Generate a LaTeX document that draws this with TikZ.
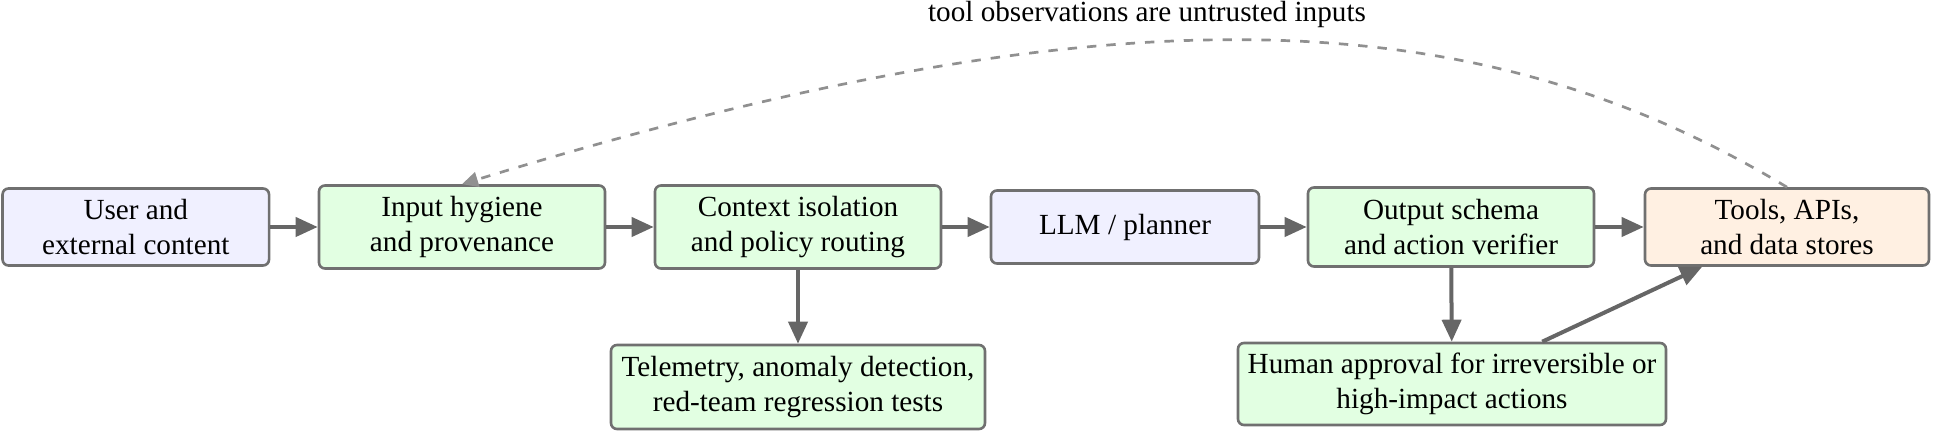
\documentclass[tikz,border=0pt]{standalone}
\usepackage{fontspec}
\setmainfont{Liberation Serif}
\usetikzlibrary{arrows.meta}
\definecolor{bluefill}{HTML}{F0F0FF}
\definecolor{greenfill}{HTML}{E2FFE2}
\definecolor{orangefill}{HTML}{FFF0E2}
\definecolor{boxline}{HTML}{707070}
\definecolor{arrowgray}{HTML}{666666}
\definecolor{dashgray}{HTML}{909090}
\tikzset{
  box/.style={draw=boxline, line width=1.3pt, rounded corners=3pt, align=center,
    inner sep=2pt, font=\fontsize{14.6}{17.3}\selectfont},
  bluebox/.style={box, fill=bluefill},
  greenbox/.style={box, fill=greenfill},
  orangebox/.style={box, fill=orangefill},
  flow/.style={draw=arrowgray, line width=2pt, -{Triangle[length=11pt,width=9.5pt]}},
  feedback/.style={draw=dashgray, line width=1.35pt, dash pattern=on 4.7pt off 5pt,
    -{Triangle[length=8pt,width=7.5pt]}},
}
\begin{document}
\begin{tikzpicture}[x=1pt,y=1pt]
\useasboundingbox (0,0) rectangle (966.5,216);
\node[bluebox, minimum width=133.25pt, minimum height=38.5pt] (user) at (67.9,102.5) {User and\\external content};
\node[greenbox, minimum width=143pt, minimum height=41.5pt] (input) at (231,102.5) {Input hygiene\\and provenance};
\node[greenbox, minimum width=143pt, minimum height=41.5pt] (context) at (399,102.5) {Context isolation\\and policy routing};
\node[bluebox, minimum width=134pt, minimum height=36.5pt] (llm) at (562.5,102.5) {LLM / planner};
\node[greenbox, minimum width=143pt, minimum height=39.5pt] (output) at (725.5,102.5) {Output schema\\and action verifier};
\node[orangebox, minimum width=142pt, minimum height=38.5pt] (tools) at (893.5,102.5) {Tools, APIs,\\and data stores};
\node[greenbox, minimum width=187pt, minimum height=42pt] (tele) at (399,22.5) {Telemetry, anomaly detection,\\red-team regression tests};
\node[greenbox, minimum width=214pt, minimum height=41pt] (human) at (726,24) {Human approval for irreversible or\\high-impact actions};
\node[font=\fontsize{14.6}{17.3}\selectfont, inner sep=0pt] (lbl) at (573.5,209) {tool observations are untrusted inputs};
\draw[flow] (user) -- (input);
\draw[flow] (input) -- (context);
\draw[flow] (context) -- (llm);
\draw[flow] (llm) -- (output);
\draw[flow] (output) -- (tools);
\draw[flow] (context) -- (tele);
\draw[flow] (output) -- (human);
\draw[flow] (human) -- (tools);
\draw[feedback] (tools.north) .. controls (740,215) and (560,225) .. (input.north);
\end{tikzpicture}
\end{document}
